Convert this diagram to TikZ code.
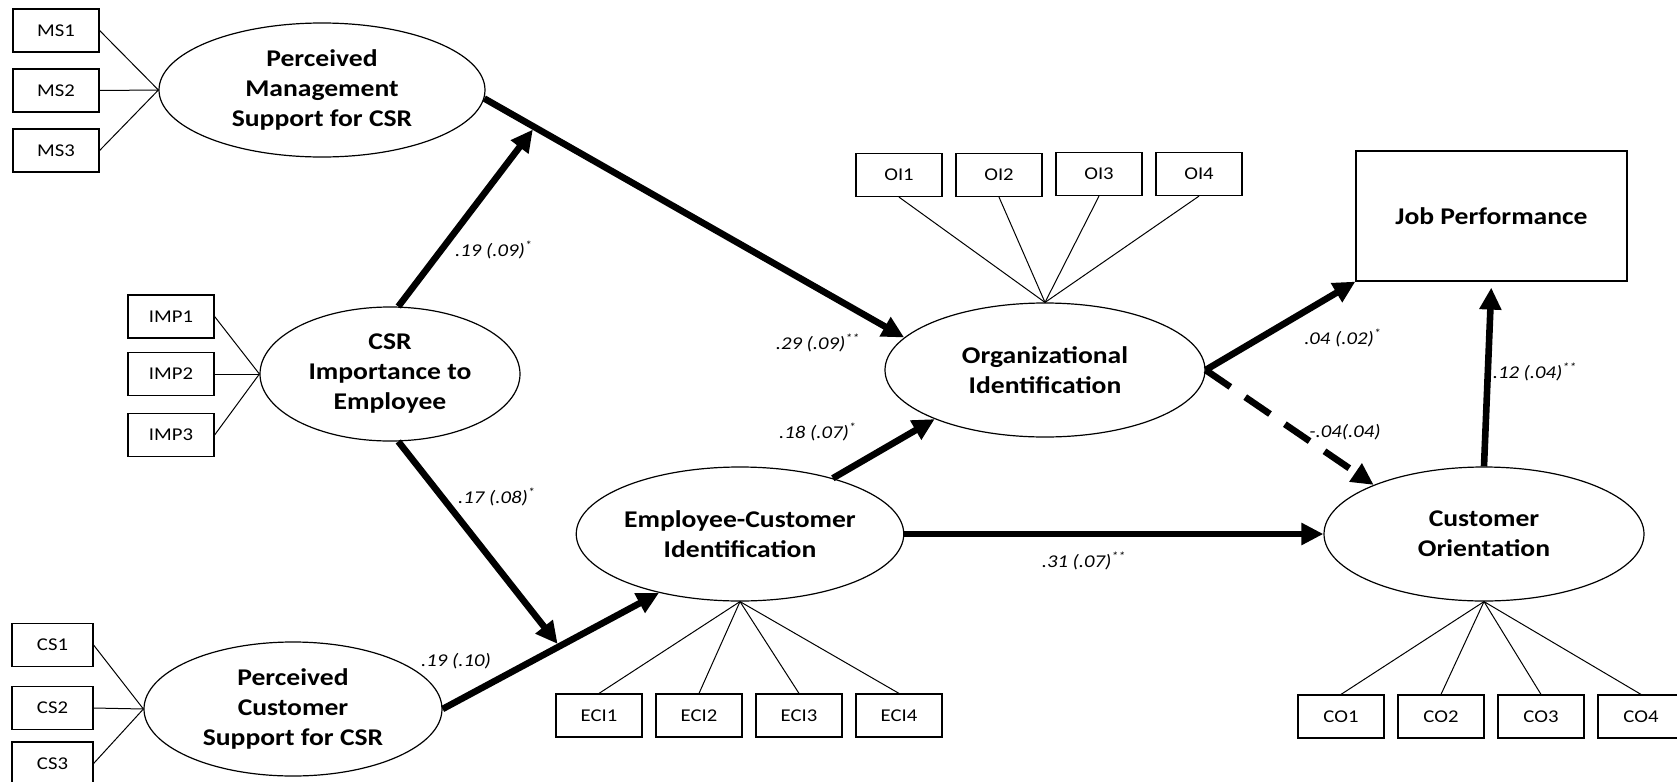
\documentclass[tikz,border=0pt]{standalone}
\usepackage{fontspec}
\setmainfont{Carlito}[FakeStretch=1.15]
\usetikzlibrary{arrows.meta,shapes.geometric}
\begin{document}
\begin{tikzpicture}[x=0.5pt,y=-0.5pt,
 latent/.style={ellipse,draw,line width=0.6pt,inner sep=0pt,align=center,minimum height=67pt,font=\fontsize{12}{15}\selectfont\bfseries},
 ind/.style={rectangle,draw,line width=0.6pt,minimum width=43pt,minimum height=21.5pt,inner sep=0pt,font=\fontsize{9}{11}\selectfont},
 load/.style={line width=0.5pt},
 eff/.style={line width=3.3pt,-{Triangle[length=11pt,width=10.5pt]}},
 deff/.style={eff,dash pattern=on 15pt off 9pt},
 coef/.style={font=\fontsize{9}{11}\selectfont\itshape,inner sep=0pt}
]
\useasboundingbox (0,0) rectangle (1677,782);

% latent variables
\node[latent,minimum width=163pt] (PMS) at (322,90) {Perceived\\Management\\Support for CSR};
\node[latent,minimum width=130pt] (CSR) at (390,374) {CSR\\Importance to\\Employee};
\node[latent,minimum width=149pt] (PCS) at (293,709) {Perceived\\Customer\\Support for CSR};
\node[latent,minimum width=160pt] (ECI) at (740,534) {Employee-Customer\\Identification};
\node[latent,minimum width=160pt] (OI) at (1045,370) {Organizational\\Identification};
\node[latent,minimum width=160pt] (CO) at (1484,534) {Customer\\Orientation};
\node[draw,line width=0.6pt,minimum width=135.5pt,minimum height=65pt,inner sep=0pt,font=\fontsize{12}{15}\selectfont\bfseries] (JP) at (1491.5,216) {Job Performance};

% indicators
\node[ind] (MS1) at (56,30.5) {MS1};
\node[ind] (MS2) at (56,90.5) {MS2};
\node[ind] (MS3) at (56,150.5) {MS3};
\node[ind] (IMP1) at (171,316.5) {IMP1};
\node[ind] (IMP2) at (171,374) {IMP2};
\node[ind] (IMP3) at (171,435) {IMP3};
\node[ind,minimum width=40.5pt] (CS1) at (52.5,645) {CS1};
\node[ind,minimum width=40.5pt] (CS2) at (52.5,708) {CS2};
\node[ind,minimum width=40.5pt] (CS3) at (52.5,763.5) {CS3};
\node[ind] (OI1) at (899,175) {OI1};
\node[ind] (OI2) at (999,175) {OI2};
\node[ind] (OI3) at (1099,174) {OI3};
\node[ind] (OI4) at (1199,174) {OI4};
\node[ind] (ECI1) at (599,715.5) {ECI1};
\node[ind] (ECI2) at (699,715.5) {ECI2};
\node[ind] (ECI3) at (799,715.5) {ECI3};
\node[ind] (ECI4) at (899,715.5) {ECI4};
\node[ind] (CO1) at (1341,716.5) {CO1};
\node[ind] (CO2) at (1441,716.5) {CO2};
\node[ind] (CO3) at (1541,716.5) {CO3};
\node[ind] (CO4) at (1641,716.5) {CO4};

% loadings
\foreach \i in {1,2,3} {
  \draw[load] (MS\i.east) -- (PMS.west);
  \draw[load] (IMP\i.east) -- (CSR.west);
  \draw[load] (CS\i.east) -- (PCS.west);
}
\foreach \i in {1,2,3,4} {
  \draw[load] (OI\i.south) -- (OI.north);
  \draw[load] (ECI\i.north) -- (ECI.south);
  \draw[load] (CO\i.north) -- (CO.south);
}

% structural paths
\draw[eff] (PMS.-3) -- coordinate[pos=0.12] (m1) (OI.167);
\draw[eff,shorten >=1.5pt] (CSR.83) -- (m1);
\draw[eff] (PCS.east) -- coordinate[pos=0.54] (m2) (ECI.216);
\draw[eff,shorten >=1.5pt] (CSR.-83) -- (m2);
\draw[eff] (ECI.31) -- (OI.204);
\draw[eff] (ECI.east) -- (CO.west);
\draw[eff] (OI.east) -- (JP.south west);
\draw[deff] (OI.east) -- (CO.156);
\draw[eff,shorten >=3pt] (CO.north) -- (JP.south);

% coefficients
\node[coef] (c1) at (494,250) {.19 (.09)\textsuperscript{*}};
\node[coef] (c2) at (497,497) {.17 (.08)\textsuperscript{*}};
\node[coef] (c3) at (818,343) {.29 (.09)\textsuperscript{**}};
\node[coef] (c4) at (456,661) {.19 (.10)};
\node[coef] (c5) at (818,432) {.18 (.07)\textsuperscript{*}};
\node[coef] (c6) at (1084,561) {.31 (.07)\textsuperscript{**}};
\node[coef] (c7) at (1343,338) {.04 (.02)\textsuperscript{*}};
\node[coef] (c8) at (1345,432) {-.04(.04)};
\node[coef] (c9) at (1535,372) {.12 (.04)\textsuperscript{**}};
\end{tikzpicture}
\end{document}
